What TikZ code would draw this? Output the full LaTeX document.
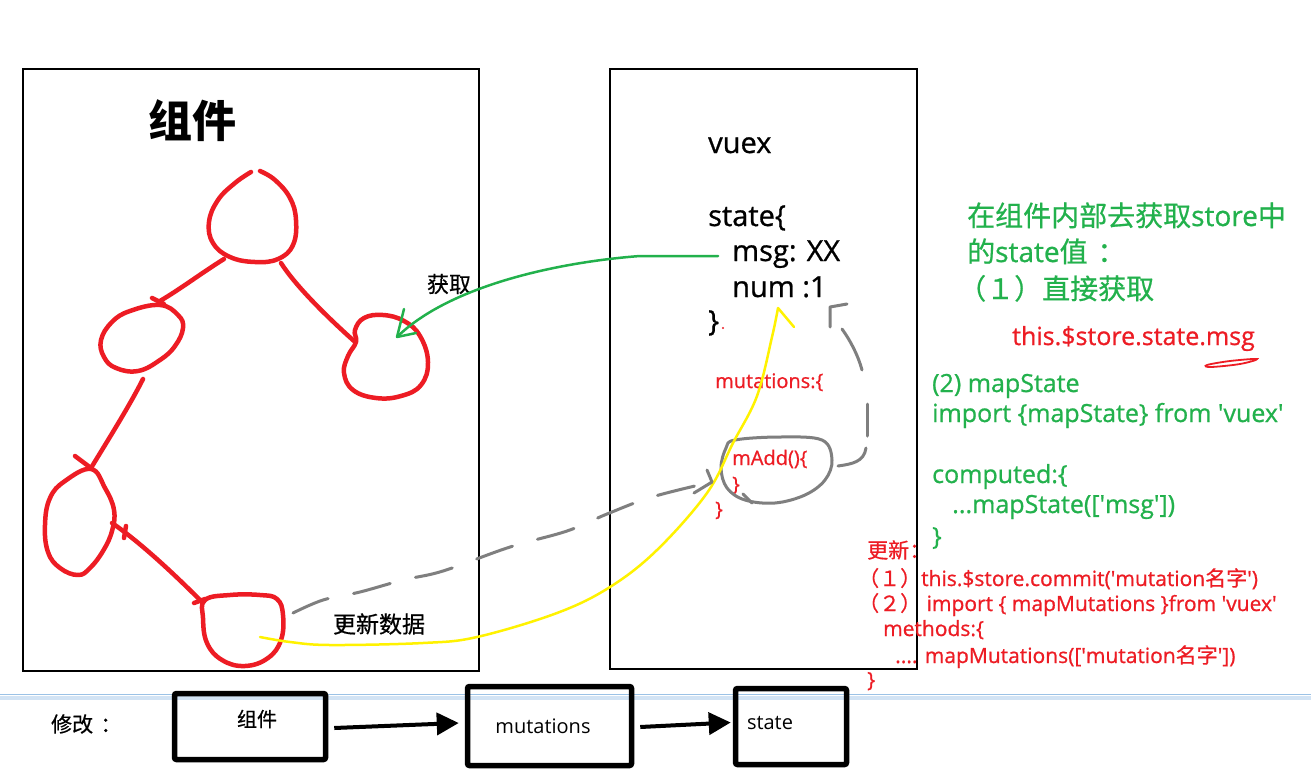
\documentclass[tikz,border=0pt]{standalone}
\usepackage{fontspec}
\setmainfont{Open Sans}[FakeBold=0.8]
\newfontfamily\cjk{Noto Sans CJK SC}[FakeBold=0.6]
\newfontfamily\cjktitle{Noto Sans CJK SC}
\newfontfamily\plainsans{Open Sans}
\usetikzlibrary{arrows.meta,calc}
\newcommand\fsz[1]{\fontsize{#1}{#1}\selectfont}
\newcommand\qq{\textquotesingle}
\newcommand\ccolon{\hspace{0.35em}\makebox[0.4em][l]{\cjk ：}}
\definecolor{hred}{RGB}{237,28,36}
\definecolor{ggreen}{RGB}{34,177,76}
\definecolor{hyellow}{RGB}{255,242,0}
\definecolor{hgray}{RGB}{127,127,127}
\definecolor{sepblue}{RGB}{155,194,230}
\begin{document}
\begin{tikzpicture}[x=1pt,y=-1pt,
  txt/.style={inner sep=0pt, anchor=base west},
  hbox/.style={draw, line width=2pt, inner sep=0pt},
  bbox/.style={draw, line width=5.5pt, rounded corners=2pt, inner sep=0pt},
  redline/.style={draw=hred, line width=4.5pt, line cap=round, line join=round},
  gline/.style={draw=ggreen, line width=2.5pt, line cap=round, line join=round},
  yline/.style={draw=hyellow, line width=2.5pt, line cap=round, line join=round},
  grline/.style={draw=hgray, line width=3pt, line cap=round, line join=round},
  barrow/.style={line width=4pt, -{Triangle[length=22pt,width=22pt]}}]
\fill[white] (0,0) rectangle (1311,779);
\useasboundingbox (0,0) rectangle (1311,779);

% separator
\draw[sepblue!45, line width=4pt] (0,698) -- (1311,698);
\draw[sepblue, line width=1.5pt] (0,694.5) -- (1311,694.5);

% frames
\node[hbox, anchor=north west, minimum width=456pt, minimum height=602pt] (compbox) at (22,68) {};
\node[hbox, anchor=north west, minimum width=307pt, minimum height=600pt] (vuexbox) at (609,68) {};

\node[font=\cjktitle\bfseries\fsz{44}] (title) at (192,121) {组件};

% red hand-drawn tree
\draw[redline] plot[smooth, tension=0.7] coordinates {(260,171) (275,180) (290,198) (296,220) (293,245) (278,259) (255,262) (230,257) (213,243) (209,222) (218,200) (235,183) (251,172)};
\draw[redline] plot[smooth cycle, tension=0.7] coordinates {(160,305) (178,315) (183,328) (175,346) (160,360) (138,371) (116,368) (104,357) (101,340) (112,322) (130,311)};
\draw[redline] plot[smooth cycle, tension=0.7] coordinates {(356,342) (348,356) (344,373) (353,390) (376,398) (401,396) (421,385) (428,362) (420,336) (404,321) (383,315) (364,318) (355,330)};
\draw[redline] plot[smooth cycle, tension=0.7] coordinates {(91,469) (105,488) (114,510) (112,531) (103,551) (90,568) (78,575) (60,568) (48,552) (45,525) (50,498) (65,481)};
\draw[redline] plot[smooth cycle, tension=0.7] coordinates {(205,600) (230,595) (260,595) (277,599) (283,615) (281,640) (268,658) (245,666) (222,660) (207,643) (203,618)};
\draw[redline] (224,259) .. controls (200,274) and (182,288) .. (160,301);
\draw[redline] (152,298) -- (164,304);
\draw[redline] (281,263) .. controls (295,285) and (325,315) .. (354,341);
\draw[redline] (143,379) .. controls (130,405) and (108,440) .. (91,468);
\draw[redline] (75,456) -- (91,468);
\draw[redline] (112,523) .. controls (140,542) and (175,575) .. (200,600);
\draw[redline] (126,526) -- (124,538);
\draw[redline] (194,603) -- (205,599);

% vuex text
\node[txt, font=\fsz{29}] (vx) at (708,153) {vuex};
\node[txt, font=\fsz{29}] (st) at (708,226) {state\{};
\node[txt, font=\fsz{29}] (msg) at (732,261) {msg: XX};
\node[txt, font=\fsz{29}] (num) at (732,297) {num :1};
\node[txt, font=\fsz{29}] (cl) at (708,331) {\}};
\fill[hred] (723,328) circle (1.2pt);
\node[txt, font=\fsz{20}, text=hred] (mut) at (715,388) {mutations:\{};
\node[txt, font=\fsz{20}, text=hred] (madd) at (732,465) {mAdd()\{};
\node[txt, font=\fsz{20}, text=hred] (mc1) at (732,491) {\}};
\node[txt, font=\fsz{20}, text=hred] (mc2) at (715,516) {\}};

% gray loop around mAdd
\draw[grline] plot[smooth cycle, tension=0.6] coordinates {(735,440) (780,437) (822,440) (832,460) (825,480) (805,495) (775,503) (745,500) (727,488) (721,468) (726,448)};
\draw[grline] (743,494) -- (752,503);

% labels
\node[font=\cjk\fsz{22}] (huoqu) at (449,284) {获取};
\node[font=\cjk\fsz{23}] (gxsj) at (379,624) {更新数据};

% green arrow
\coordinate (gstart) at (718,256);
\coordinate (gend) at (397,337);
\draw[gline] (gstart) -- (640,256) .. controls (560,262) and (450,285) .. (gend);
\draw[gline] (404,309) -- (gend) -- (416,333);

% yellow arrow
\coordinate (ystart) at (260,637);
\coordinate (yend) at (778,308);
\draw[yline] plot[smooth, tension=0.6] coordinates {(ystart) (290,642) (330,645) (423,643) (477,637) (557,613) (610,587) (657,550) (707,493) (733,443) (757,396) (772,337) (yend)} -- (794,327);

% gray dashed arrow to mAdd
\coordinate (dstart) at (293,613);
\coordinate (dend) at (712,482);
\draw[grline, dash pattern=on 38pt off 26pt] plot[smooth, tension=0.6] coordinates {(dstart) (323,600) (360,592) (403,580) (443,571) (510,547) (567,531) (607,514) (652,497) (dend)};
\draw[grline] (707,470) -- (dend) -- (694,493);

% gray dashed return arrow
\draw[grline] (838,466) .. controls (852,464) and (864,462) .. (866,448);
\draw[grline] (867,436) -- (867,404);
\draw[grline] (862,370) .. controls (858,355) and (850,340) .. (842,329);
\coordinate (rtip) at (830,307);
\draw[grline] (830,327) -- (rtip) -- (847,304);

% green explanation
\node[txt, font=\fsz{28}, text=ggreen] (g1) at (967,226) {{\cjk 在组件内部去获取}store{\cjk 中}};
\node[txt, font=\fsz{28}, text=ggreen] (g2) at (967,262) {{\cjk 的}state{\cjk 值}\ccolon};
\node[txt, font=\fsz{28}, text=ggreen] (g3) at (958,299) {{\cjk （１）直接获取}};
\node[txt, font=\fsz{25}, text=hred] (r1) at (1012,345) {this.\$store.state.msg};
\draw[hred, line width=1.8pt, line cap=round] plot[smooth cycle, tension=0.6] coordinates {(1207,365) (1230,361) (1257,359) (1240,364) (1211,367)};
\node[txt, font=\fsz{25}, text=ggreen] (g4) at (932,392) {(2) mapState};
\node[txt, font=\fsz{25}, text=ggreen] (g5) at (932,422) {import \{mapState\} from \qq vuex\qq};
\node[txt, font=\fsz{25}, text=ggreen] (g6) at (932,483) {computed:\{};
\node[txt, font=\fsz{25}, text=ggreen] (g7) at (952,513) {...mapState([\qq msg\qq])};
\node[txt, font=\fsz{25}, text=ggreen] (g8) at (932,545) {\}};

% red update block
\node[txt, font=\fsz{21}, text=hred] (u1) at (867,558) {{\cjk 更新}\makebox[0.3em][l]{\cjk ：}};
\node[txt, font=\fsz{21}, text=hred] (u2) at (858,586) {{\cjk （１）}this.\$store.commit(\qq mutation{\cjk 名字}\qq)};
\node[txt, font=\fsz{21}, text=hred] (u3) at (858,611) {{\cjk （２）} import \{ mapMutations \}from \qq vuex\qq};
\node[txt, font=\fsz{21}, text=hred] (u4) at (883,636) {methods:\{};
\node[txt, font=\fsz{21}, text=hred] (u5) at (895,663) {.... mapMutations([\qq mutation{\cjk 名字}\qq])};
\node[txt, font=\fsz{21}, text=hred] (u6) at (867,687) {\}};

% bottom flow
\node[font=\cjk\fsz{21}] (xg) at (80,724) {修改\ccolon};
\node[bbox, minimum width=151pt, minimum height=66pt] (b1) at (250,726.5) {};
\node[bbox, minimum width=164pt, minimum height=79pt] (b2) at (549.5,726) {};
\node[bbox, minimum width=111pt, minimum height=76pt] (b3) at (791,726.5) {};
\node[font=\cjk\fsz{20}] (t1) at (257,719) {组件};
\node[font=\plainsans\fsz{20}] (t2) at (543,726) {mutations};
\node[font=\plainsans\fsz{20}] (t3) at (770,723) {state};
\draw[barrow] ($(b1.east)+(6,1.5)$) -- ($(b2.west)+(-6,-3)$);
\draw[barrow] ($(b2.east)+(6,1)$) -- ($(b3.west)+(-2,-4)$);
\end{tikzpicture}
\end{document}
